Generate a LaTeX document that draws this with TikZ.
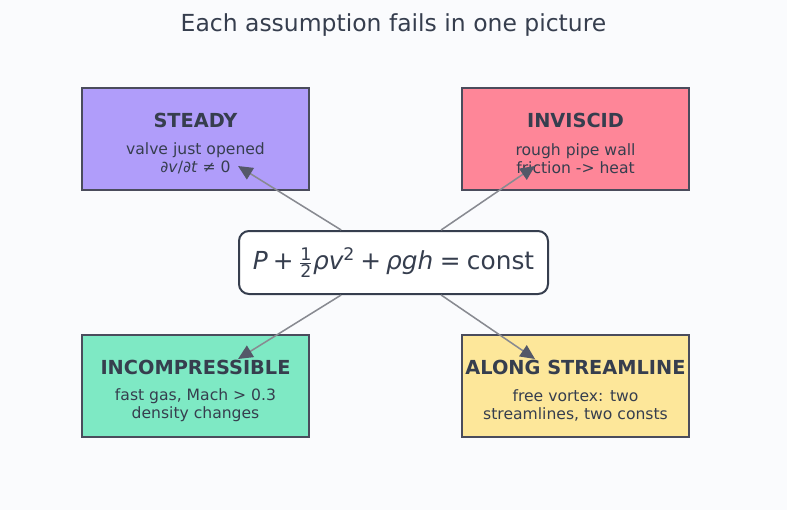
\documentclass[tikz,border=0pt]{standalone}
\usepackage{amsmath}
\usepackage{fontspec}
\setmainfont{DejaVu Sans}
\usetikzlibrary{arrows.meta}
\definecolor{bgc}{RGB}{250,251,253}
\definecolor{txtc}{RGB}{54,62,78}
\definecolor{edgec}{RGB}{74,76,92}
\definecolor{linec}{RGB}{136,138,145}
\definecolor{tipc}{RGB}{84,88,104}
\definecolor{steadyc}{RGB}{176,157,250}
\definecolor{invisc}{RGB}{254,134,152}
\definecolor{incompc}{RGB}{126,233,196}
\definecolor{alongc}{RGB}{253,231,154}
\tikzset{
  assum/.style={draw=edgec, line width=1.5pt, minimum width=170.25pt, minimum height=76.5pt, inner sep=0pt},
  headtxt/.style={text=txtc, font=\fontsize{14.5}{17}\selectfont\bfseries},
  subtxt/.style={text=txtc, align=center, font=\fontsize{11.7}{13.5}\selectfont},
  fails/.style={linec, line width=1.15pt, -{Triangle[length=11pt, width=10pt, color=tipc]}}
}
\begin{document}
\begin{tikzpicture}[x=0.75pt, y=-0.75pt]
	% Fondo y marco
	\fill[bgc] (0,0) rectangle (787,510);
	\useasboundingbox (0,0) rectangle (787,510);
	% Titulo
	\node[text=txtc, font=\fontsize{17.6}{20}\selectfont] (title) at (393.5,25.5) {Each assumption fails in one picture};
	% Cajas de las hipotesis
	\node[assum, fill=steadyc] (steady) at (195.5,139) {};
	\node[headtxt] (steadyH) at (195.5,120) {STEADY};
	\node[subtxt] (steadyS) at (195.5,158.5) {valve just opened\\\textit{∂v}/\textit{∂t} ≠ 0};
	\node[assum, fill=invisc] (inv) at (575.5,139) {};
	\node[headtxt] (invH) at (575.5,120) {INVISCID};
	\node[subtxt] (invS) at (575.5,158.5) {rough pipe wall\\friction -> heat};
	\node[assum, fill=incompc] (incomp) at (195.5,386) {};
	\node[headtxt] (incompH) at (195.5,367) {INCOMPRESSIBLE};
	\node[subtxt] (incompS) at (195.5,405.5) {fast gas, Mach > 0.3\\density changes};
	\node[assum, fill=alongc] (along) at (575.5,386) {};
	\node[headtxt] (alongH) at (575.5,367) {ALONG STREAMLINE};
	\node[subtxt] (alongS) at (575.5,405.5) {free vortex: two\\streamlines, two consts};
	% Ecuacion central
	\node[draw=txtc, fill=white, line width=1.5pt, rounded corners=7.5pt, minimum width=231.75pt, minimum height=47.25pt, text=txtc, font=\fontsize{18.6}{21}\selectfont] (eq) at (393.5,262.5)
		{$\textit{P}\mathbin{\text{+}}\tfrac{\text{1}}{\text{2}}\textit{ρv}^{\text{2}}\mathbin{\text{+}}\textit{ρgh}\mathrel{\text{=}}\text{const}$};
	% Puntas de las flechas
	\coordinate (t1) at (238,166);
	\coordinate (t2) at (535,166);
	\coordinate (t3) at (238,359);
	\coordinate (t4) at (535,359);
	\draw[fails] (eq) -- (t1);
	\draw[fails] (eq) -- (t2);
	\draw[fails] (eq) -- (t3);
	\draw[fails] (eq) -- (t4);
\end{tikzpicture}
\end{document}
